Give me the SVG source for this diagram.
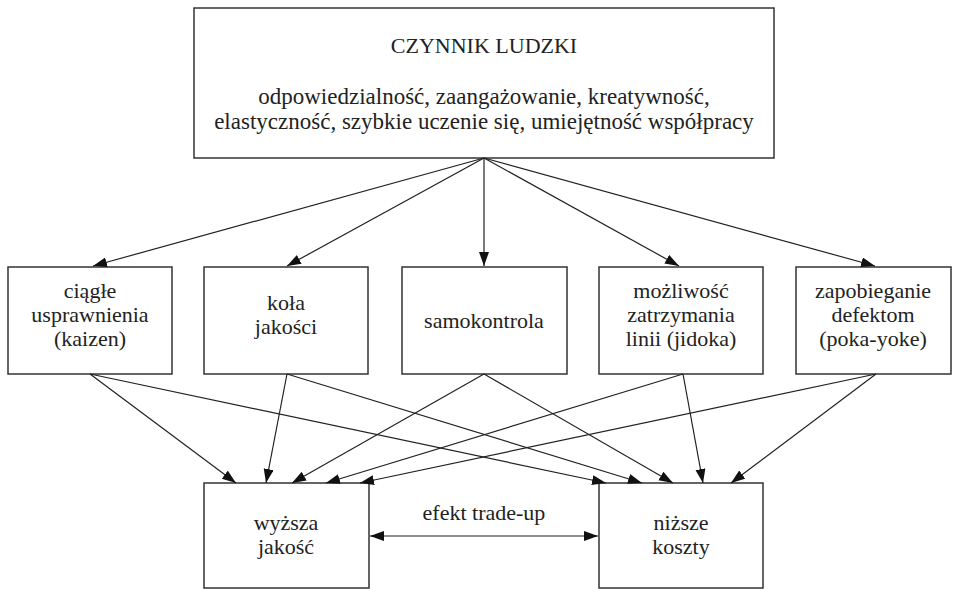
<svg xmlns="http://www.w3.org/2000/svg" width="953" height="589" viewBox="0 0 953 589">
<style>
.box{fill:#fff;stroke:#333;stroke-width:1.5}
text{font-family:'Liberation Serif','Times New Roman',serif;font-size:22px;fill:#222;text-anchor:middle}
.top text{font-size:23px}
.top .h{font-size:22px}
.c line{stroke:#222;stroke-width:1.2;marker-end:url(#ah)}
</style>
<defs>
<marker id="ah" markerUnits="userSpaceOnUse" markerWidth="15" markerHeight="11" refX="14" refY="5" orient="auto-start-reverse">
<path d="M0,0 L14,5 L0,10 z" fill="#111"/>
</marker>
</defs>
<rect width="953" height="589" fill="#fff"/>
<g id="n-top" class="top">
<rect class="box" x="194" y="8" width="580" height="150"/>
<text class="h" x="484" y="53">CZYNNIK LUDZKI</text>
<text x="484" y="104">odpowiedzialność, zaangażowanie, kreatywność,</text>
<text x="484" y="129">elastyczność, szybkie uczenie się, umiejętność współpracy</text>
</g>
<g id="n-kaizen">
<rect class="box" x="8" y="267" width="164" height="107"/>
<text x="90" y="298">ciągłe</text>
<text x="90" y="322">usprawnienia</text>
<text x="90" y="346">(kaizen)</text>
</g>
<g id="n-kola">
<rect class="box" x="204" y="267" width="164" height="107"/>
<text x="286" y="310">koła</text>
<text x="286" y="334">jakości</text>
</g>
<g id="n-samo">
<rect class="box" x="402" y="267" width="165" height="107"/>
<text x="484" y="328">samokontrola</text>
</g>
<g id="n-jidoka">
<rect class="box" x="599" y="267" width="164" height="107"/>
<text x="681" y="298">możliwość</text>
<text x="681" y="322">zatrzymania</text>
<text x="681" y="346">linii (jidoka)</text>
</g>
<g id="n-poka">
<rect class="box" x="796" y="267" width="155" height="107"/>
<text x="873" y="298">zapobieganie</text>
<text x="873" y="322">defektom</text>
<text x="873" y="346">(poka-yoke)</text>
</g>
<g id="n-jakosc">
<rect class="box" x="204" y="483" width="165" height="105"/>
<text x="286" y="530">wyższa</text>
<text x="286" y="554">jakość</text>
</g>
<g id="n-koszty">
<rect class="box" x="599" y="483" width="164" height="105"/>
<text x="681" y="530">niższe</text>
<text x="681" y="554">koszty</text>
</g>
<g id="connectors" class="c">
<line x1="484" y1="158" x2="93" y2="266"/>
<line x1="484" y1="158" x2="287" y2="266"/>
<line x1="484" y1="158" x2="484" y2="266"/>
<line x1="484" y1="158" x2="679" y2="266"/>
<line x1="484" y1="158" x2="875" y2="266"/>
<line x1="90" y1="374" x2="236" y2="483"/>
<line x1="90" y1="374" x2="606" y2="483"/>
<line x1="287" y1="374" x2="266" y2="483"/>
<line x1="287" y1="374" x2="642" y2="483"/>
<line x1="484" y1="374" x2="292" y2="483"/>
<line x1="484" y1="374" x2="673" y2="483"/>
<line x1="683" y1="374" x2="326" y2="483"/>
<line x1="683" y1="374" x2="703" y2="483"/>
<line x1="876" y1="374" x2="360" y2="483"/>
<line x1="876" y1="374" x2="731" y2="483"/>
<line x1="370" y1="536" x2="598" y2="536" style="marker-start:url(#ah)"/>
</g>
<text x="484" y="520">efekt trade-up</text>
</svg>
